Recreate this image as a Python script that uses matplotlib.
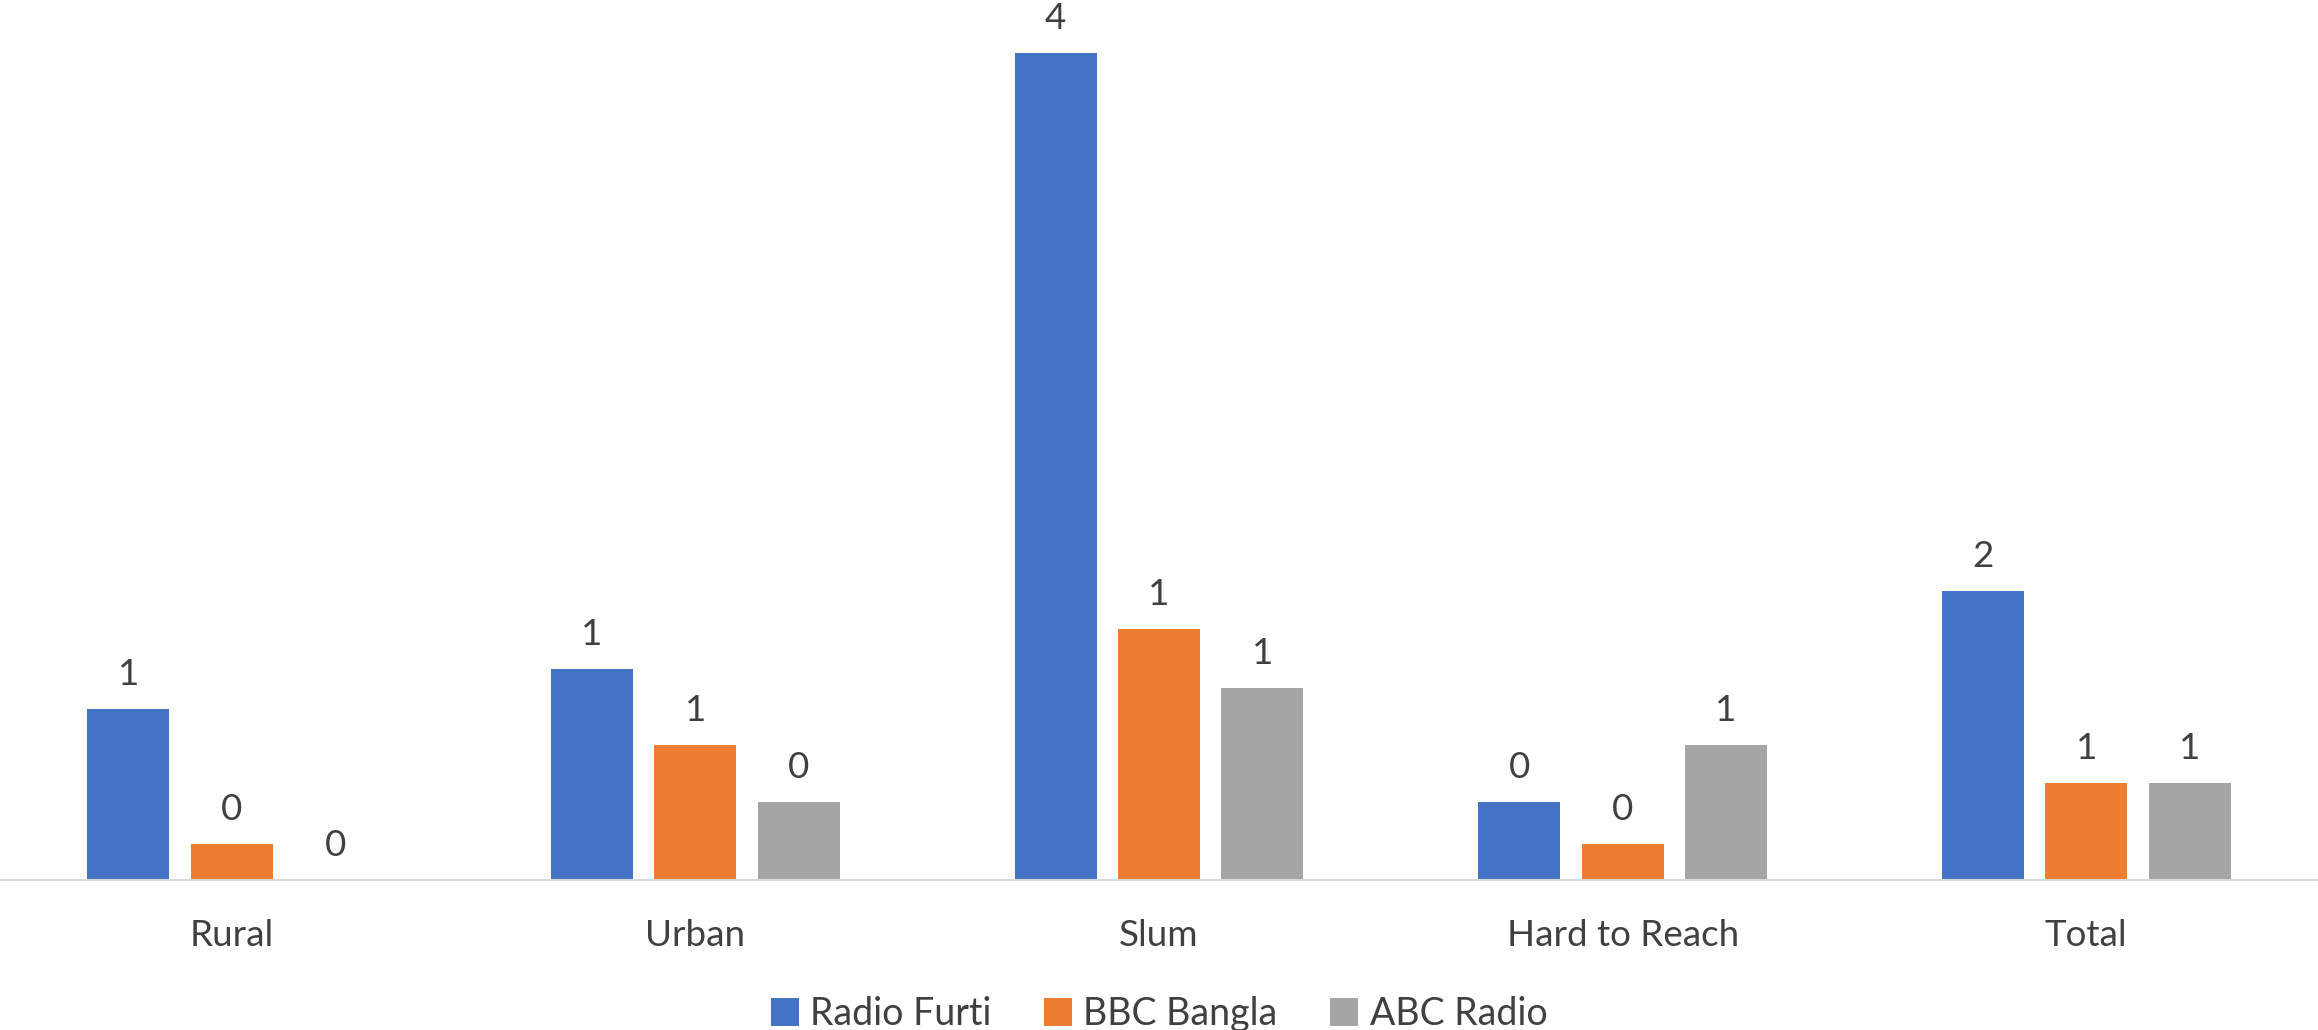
import numpy as np
import matplotlib.pyplot as plt

# Data
categories = ["Rural", "Urban", "Slum", "Hard to Reach", "Total"]
radio_furti = [0.90, 1.11, 4.35, 0.41, 1.52]
bbc_bangla = [0.19, 0.71, 1.32, 0.19, 0.51]
abc_radio = [0.0, 0.41, 1.01, 0.71, 0.51]

series = [
    ("Radio Furti", radio_furti, "#4472C4"),
    ("BBC Bangla", bbc_bangla, "#ED7D31"),
    ("ABC Radio", abc_radio, "#A5A5A5"),
]

plt.rcParams['font.family'] = ['Lato', 'DejaVu Sans']
text_color = "#404040"

fig = plt.figure(figsize=(23.18, 10.30), dpi=100)
ax = fig.add_axes([0, 150 / 1030, 1, 880 / 1030])

x = np.arange(len(categories))
bar_w = 0.177
step = 0.223

for i, (name, vals, color) in enumerate(series):
    pos = x + (i - 1) * step
    bars = ax.bar(pos, vals, width=bar_w, color=color, label=name, zorder=2)
    for b, v in zip(bars, vals):
        ax.annotate(f"{int(v + 0.5)}", (b.get_x() + b.get_width() / 2, v),
                    xytext=(0, 13), textcoords="offset points",
                    ha="center", va="bottom", fontsize=26.5, color=text_color)

ax.set_xlim(-0.5, len(categories) - 0.5)
ax.set_ylim(0, 4.63)

# Axes styling
for side in ["top", "right", "left"]:
    ax.spines[side].set_visible(False)
ax.spines["bottom"].set_color("#D9D9D9")
ax.spines["bottom"].set_linewidth(1.5)
ax.set_yticks([])
ax.set_xticks(x)
ax.set_xticklabels(categories, fontsize=26.5, color=text_color)
ax.tick_params(axis="x", length=0, pad=28)

leg = fig.legend(loc="lower center", ncol=3, frameon=False, fontsize=27,
                 bbox_to_anchor=(0.5, -0.035), handlelength=0.75, handleheight=0.75,
                 handletextpad=0.3, columnspacing=1.4)
for t in leg.get_texts():
    t.set_color(text_color)

fig.savefig("out.png", dpi=100)
